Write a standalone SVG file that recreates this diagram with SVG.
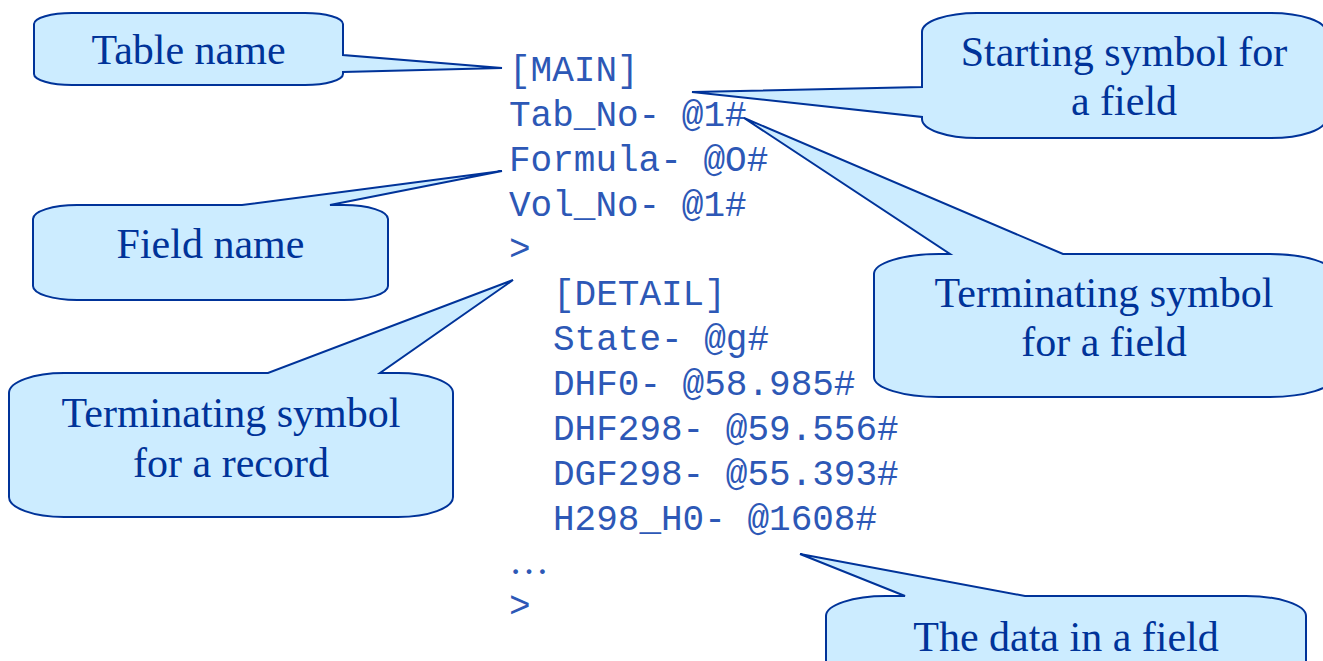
<svg xmlns="http://www.w3.org/2000/svg" width="1323" height="661" viewBox="0 0 1323 661">
<style>
.co{fill:#ccecff;stroke:#003399;stroke-width:2;stroke-linejoin:miter}
.lb{font-family:"Liberation Serif","Times New Roman",serif;font-size:42px;fill:#003399;text-anchor:middle}
.cd{font-family:"Liberation Mono","Courier New",monospace;font-size:36px;fill:#2d58b6}
</style>
<rect width="1323" height="661" fill="#ffffff"/>
<g id="code">
<text class="cd" x="509" y="81">[MAIN]</text>
<text class="cd" x="509" y="126">Tab_No- @1#</text>
<text class="cd" x="509" y="171">Formula- @O#</text>
<text class="cd" x="509" y="216">Vol_No- @1#</text>
<text class="cd" x="509" y="260">&gt;</text>
<text class="cd" x="553" y="305">[DETAIL]</text>
<text class="cd" x="553" y="350">State- @g#</text>
<text class="cd" x="553" y="395">DHF0- @58.985#</text>
<text class="cd" x="553" y="440">DHF298- @59.556#</text>
<text class="cd" x="553" y="485">DGF298- @55.393#</text>
<text class="cd" x="553" y="530">H298_H0- @1608#</text>
<text x="509" y="574" style="font-family:'Liberation Serif',serif;font-size:40px;fill:#2d58b6">…</text>
<text class="cd" x="509" y="617">&gt;</text>
</g>
<g id="callout-table-name">
<path class="co" d="M72,13 H305 A38 11 0 0 1 343,24 V55 L502,68 L343,72 V74 A38 11 0 0 1 305,85 H72 A38 11 0 0 1 34,74 V24 A38 11 0 0 1 72,13 Z"/>
<text class="lb" x="188.5" y="64">Table name</text>
</g>
<g id="callout-field-name">
<path class="co" d="M77,205 H242 L502,171 L330,205 H344 A44 14 0 0 1 388,219 V286 A44 14 0 0 1 344,300 H77 A44 14 0 0 1 33,286 V219 A44 14 0 0 1 77,205 Z"/>
<text class="lb" x="210.5" y="258">Field name</text>
</g>
<g id="callout-record-end">
<path class="co" d="M64,373 H268 L513,280 L380,373 H398 A55 20 0 0 1 453,393 V497 A55 20 0 0 1 398,517 H64 A55 20 0 0 1 9,497 V393 A55 20 0 0 1 64,373 Z"/>
<text class="lb" x="231" y="427">Terminating symbol</text>
<text class="lb" x="231" y="477">for a record</text>
</g>
<g id="callout-field-start">
<path class="co" d="M977,13 H1271 A55 19 0 0 1 1326,32 V119 A55 19 0 0 1 1271,138 H977 A55 19 0 0 1 922,119 V117 L692,92 L922,87 V32 A55 19 0 0 1 977,13 Z"/>
<text class="lb" x="1124" y="66">Starting symbol for</text>
<text class="lb" x="1124" y="115">a field</text>
</g>
<g id="callout-field-end">
<path class="co" d="M939,254 H950 L744,118 L1063,254 H1269 A65 20 0 0 1 1334,274 V377 A65 20 0 0 1 1269,397 H939 A65 20 0 0 1 874,377 V274 A65 20 0 0 1 939,254 Z"/>
<text class="lb" x="1104" y="307">Terminating symbol</text>
<text class="lb" x="1104" y="356">for a field</text>
</g>
<g id="callout-field-data">
<path class="co" d="M886,596 H905 L800,554 L1025,596 H1246 A60 20 0 0 1 1306,616 V670 A60 20 0 0 1 1246,690 H886 A60 20 0 0 1 826,670 V616 A60 20 0 0 1 886,596 Z"/>
<text class="lb" x="1066" y="651">The data in a field</text>
</g>
</svg>
